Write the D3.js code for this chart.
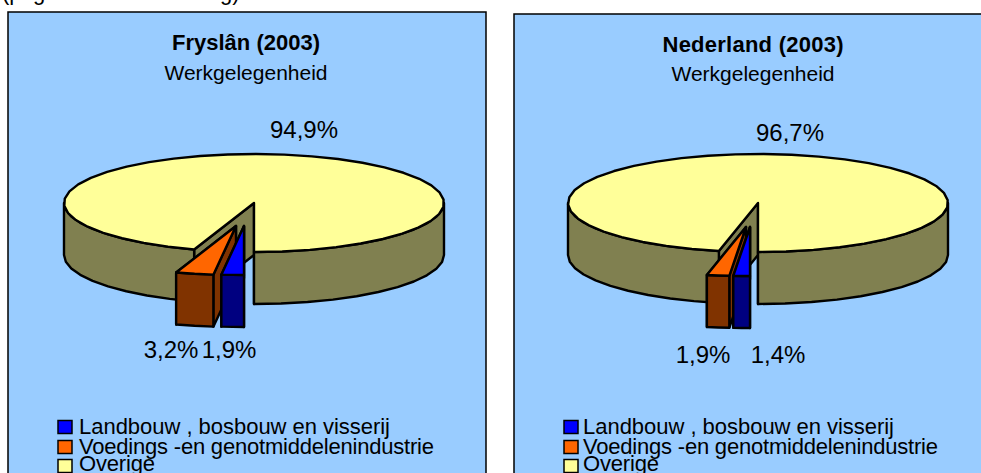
<!DOCTYPE html>
<html>
<head>
<meta charset="utf-8">
<script src="https://cdn.jsdelivr.net/npm/d3@7"></script>
<style>
  body { margin: 0; background: #fff; overflow: hidden; }
  text { font-family: "Liberation Sans", Arial, sans-serif; fill: #000; }
</style>
</head>
<body>
<div id="chart"></div>
<script>
const categories = ["Landbouw , bosbouw  en visserij", "Voedings -en genotmiddelenindustrie", "Overige"];
const fryslanValues = [1.9, 3.2, 94.9];
const nederlandValues = [1.4, 1.9, 96.7];
const chartTitles = ["Fryslân (2003)", "Nederland (2003)"];
const chartSubtitle = "Werkgelegenheid";

const topColors = ["#0000ff", "#ff6600", "#ffff99"];
const sideColors = ["#000080", "#803300", "#808050"];

function init() {
    const w = 981;
    const h = 473;
    const rx = 190, ry = 49, depth = 52;

    const svg = d3.select("#chart")
        .append("svg")
        .attr("width", w)
        .attr("height", h)
        .style("display", "block");

    // leftover line of the page above the charts, only the descenders show
    svg.append("text").attr("x", 2).attr("y", 0).attr("font-size", 22).text("(p");
    svg.append("text").attr("x", 33).attr("y", 0).attr("font-size", 22).text("g");
    svg.append("text").attr("x", 220).attr("y", 0).attr("font-size", 22).text("g)");

    const panels = [
        {
            values: fryslanValues, title: chartTitles[0],
            x: 8, y: 12, panelW: 478, cx: 254, cy: 203,
            titleX: 246, titleY: 50, titleW: 148, subY: 80,
            explode: [[-10, 23], [-18, 23], [0, 0]],
            labels: [[229, 358], [171, 358], [304, 138]],
            legendX: 58, legendTextX: 79
        },
        {
            values: nederlandValues, title: chartTitles[1],
            x: 514, y: 14, panelW: 480, cx: 758, cy: 203,
            titleX: 753, titleY: 52, titleW: 181, subY: 81,
            explode: [[-8, 24], [-12, 24], [0, 0]],
            labels: [[778, 363], [703, 363], [790, 141]],
            legendX: 564, legendTextX: 583
        }
    ];

    const legendRows = [427, 447, 466];
    const legendBase = [434, 454, 471];
    const legendWidths = [311, 355, 76];

    const pie = d3.pie().sort(null).startAngle(Math.PI).endAngle(3 * Math.PI);
    const line = d3.line();
    const step = 0.15;

    panels.forEach(p => {
        const g = svg.append("g");

        g.append("rect")
            .attr("x", p.x).attr("y", p.y)
            .attr("width", p.panelW).attr("height", h + 20)
            .attr("fill", "#99ccff")
            .attr("stroke", "#000").attr("stroke-width", 1.5);

        g.append("text").attr("x", p.titleX).attr("y", p.titleY)
            .attr("text-anchor", "middle").attr("font-size", 22).attr("font-weight", "bold")
            .attr("textLength", p.titleW)
            .text(p.title);
        g.append("text").attr("x", p.titleX).attr("y", p.subY)
            .attr("text-anchor", "middle").attr("font-size", 21)
            .text(chartSubtitle);

        const arcs = pie(p.values);

        // biggest slice sits at the back, then orange, blue in front
        [2, 1, 0].forEach(i => {
            const a = arcs[i];
            const ox = p.cx + p.explode[i][0];
            const oy = p.cy + p.explode[i][1];
            const pt = t => [ox + rx * Math.sin(t), oy - ry * Math.cos(t)];
            const down = q => [q[0], q[1] + depth];
            const apex = [ox, oy];

            const slice = g.append("g")
                .attr("stroke", "#000").attr("stroke-width", 2.4).attr("stroke-linejoin", "round");

            // cut faces
            [a.endAngle, a.startAngle].forEach(t => {
                const e = pt(t);
                slice.append("path")
                    .attr("d", line([apex, e, down(e), down(apex)]) + "Z")
                    .attr("fill", sideColors[i]);
            });

            // rim, only the part of the circle that faces the viewer
            [[Math.PI / 2, 1.5 * Math.PI], [2.5 * Math.PI, 3.5 * Math.PI]].forEach(r => {
                const a0 = Math.max(a.startAngle, r[0]);
                const a1 = Math.min(a.endAngle, r[1]);
                if (a1 <= a0) return;
                const n = Math.max(2, Math.ceil((a1 - a0) / step));
                const rim = d3.range(n + 1).map(k => pt(a0 + (a1 - a0) * k / n));
                slice.append("path")
                    .attr("d", line(rim.concat(rim.slice().reverse().map(down))) + "Z")
                    .attr("fill", sideColors[i]);
            });

            // top face
            const n = Math.max(2, Math.ceil((a.endAngle - a.startAngle) / step));
            const edge = d3.range(n + 1).map(k => pt(a.startAngle + (a.endAngle - a.startAngle) * k / n));
            slice.append("path")
                .attr("d", line([apex].concat(edge)) + "Z")
                .attr("fill", topColors[i]);
        });

        // data labels
        p.values.forEach((v, i) => {
            g.append("text")
                .attr("x", p.labels[i][0]).attr("y", p.labels[i][1])
                .attr("text-anchor", "middle").attr("font-size", 24)
                .text(d3.format(".1f")(v).replace(".", ",") + "%");
        });

        // legend
        categories.forEach((c, i) => {
            g.append("rect")
                .attr("x", p.legendX).attr("y", legendRows[i] - 6.5)
                .attr("width", 14).attr("height", 13)
                .attr("fill", topColors[i])
                .attr("stroke", "#000").attr("stroke-width", 1.5);
            g.append("text")
                .attr("x", p.legendTextX).attr("y", legendBase[i])
                .attr("font-size", 22)
                .attr("textLength", legendWidths[i])
                .text(c);
        });
    });
}

window.onload = init;
</script>
</body>
</html>
